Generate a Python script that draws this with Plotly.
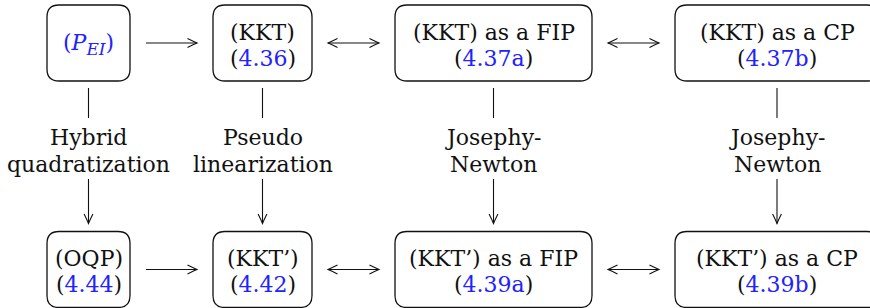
import plotly.graph_objects as go

# ---------------- data ----------------
top_titles = ["(P_EI)", "(KKT)", "(KKT) as a FIP", "(KKT) as a CP"]
top_refs = ["", "4.36", "4.37a", "4.37b"]
bottom_titles = ["(OQP)", "(KKT’)", "(KKT’) as a FIP", "(KKT’) as a CP"]
bottom_refs = ["4.44", "4.42", "4.39a", "4.39b"]
method_line1 = ["Hybrid", "Pseudo", "Josephy-", "Josephy-"]
method_line2 = ["quadratization", "linearization", "Newton", "Newton"]
link_kinds = ["single", "double", "double"]

# ---------------- layout constants ----------------
W, H = 870, 308
col_x = [88.5, 262.5, 493.5, 777.0]
box_w = [83, 99, 197, 204]
row_y = [43.0, 269.5]
box_h = 76
radius = 12
line_dy = 13
text_shift = 2
gap_h = 16
gap_v_top = 7
gap_v_bot = 8
seg_end = 118
lbl_y1, lbl_y2 = 135, 162
lower_start = 179

BLUE = "#2222ff"
BLACK = "#111111"
FONT = "DejaVu Serif"
FS = 22

fig = go.Figure()
shapes = []
annotations = []


def rbox(cx, cy, w, h, r):
    x0, x1 = cx - w / 2, cx + w / 2
    y0, y1 = cy - h / 2, cy + h / 2
    return (f"M {x0+r},{y0} L {x1-r},{y0} Q {x1},{y0} {x1},{y0+r} "
            f"L {x1},{y1-r} Q {x1},{y1} {x1-r},{y1} L {x0+r},{y1} "
            f"Q {x0},{y1} {x0},{y1-r} L {x0},{y0+r} Q {x0},{y0} {x0+r},{y0} Z")


def head(tx, ty, dx, dy, L=9.5, w=4.4):
    # open "to"-style arrow head pointing in direction (dx,dy)
    px, py = -dy, dx
    bx, by = tx - dx * L, ty - dy * L
    mx, my = tx - dx * L * 0.35, ty - dy * L * 0.35
    p1 = (bx + px * w, by + py * w)
    p2 = (bx - px * w, by - py * w)
    c1 = (mx + px * w * 0.3, my + py * w * 0.3)
    c2 = (mx - px * w * 0.3, my - py * w * 0.3)
    return (f"M {p1[0]},{p1[1]} Q {c1[0]},{c1[1]} {tx},{ty} "
            f"Q {c2[0]},{c2[1]} {p2[0]},{p2[1]}")


def seg(x0, y0, x1, y1):
    return f"M {x0},{y0} L {x1},{y1}"


def text(x, y, t, color=BLACK):
    annotations.append(dict(x=x, y=y + text_shift, xref="x", yref="y", text=t, showarrow=False,
                            font=dict(family=FONT, size=FS, color=color),
                            xanchor="center", yanchor="middle"))


def ref_text(r):
    return f"(<span style='color:{BLUE}'>{r}</span>)"


for row, (titles, refs) in enumerate([(top_titles, top_refs), (bottom_titles, bottom_refs)]):
    cy = row_y[row]
    for i, (t, r) in enumerate(zip(titles, refs)):
        shapes.append(dict(type="path", path=rbox(col_x[i], cy, box_w[i], box_h, radius),
                           xref="x", yref="y", line=dict(color=BLACK, width=1.3)))
        if t == "(P_EI)":
            text(col_x[i], cy - 1,
                 "(<i>P</i><sub><span style='font-size:17px'><i>EI</i></span></sub>)", BLUE)
        elif r:
            text(col_x[i], cy - line_dy, t)
            text(col_x[i], cy + line_dy, ref_text(r))
        else:
            text(col_x[i], cy, t)
    # horizontal links
    for i, kind in enumerate(link_kinds):
        xa = col_x[i] + box_w[i] / 2 + gap_h
        xb = col_x[i + 1] - box_w[i + 1] / 2 - gap_h
        shapes.append(dict(type="path", path=seg(xa, cy, xb, cy), xref="x", yref="y",
                           line=dict(color=BLACK, width=1.1)))
        shapes.append(dict(type="path", path=head(xb, cy, 1, 0), xref="x", yref="y",
                           line=dict(color=BLACK, width=1.1)))
        if kind == "double":
            shapes.append(dict(type="path", path=head(xa, cy, -1, 0), xref="x", yref="y",
                               line=dict(color=BLACK, width=1.1)))

# vertical links with method labels
for i in range(len(col_x)):
    x = col_x[i]
    y_top = row_y[0] + box_h / 2 + gap_v_top
    y_tip = row_y[1] - box_h / 2 - gap_v_bot
    shapes.append(dict(type="path", path=seg(x, y_top, x, seg_end), xref="x", yref="y",
                       line=dict(color=BLACK, width=1.1)))
    shapes.append(dict(type="path", path=seg(x, lower_start, x, y_tip), xref="x", yref="y",
                       line=dict(color=BLACK, width=1.1)))
    shapes.append(dict(type="path", path=head(x, y_tip, 0, 1), xref="x", yref="y",
                       line=dict(color=BLACK, width=1.1)))
    text(x, lbl_y1, method_line1[i])
    text(x, lbl_y2, method_line2[i])

fig.update_layout(
    width=W, height=H,
    margin=dict(l=0, r=0, t=0, b=0),
    paper_bgcolor="white", plot_bgcolor="white",
    xaxis=dict(range=[0, W], visible=False, fixedrange=True),
    yaxis=dict(range=[H, 0], visible=False, fixedrange=True),
    shapes=shapes, annotations=annotations, showlegend=False,
)
fig.write_html("out.html",
               config={"displayModeBar": False},
               post_script="document.body.style.margin='0px';document.body.style.overflow='hidden';")
